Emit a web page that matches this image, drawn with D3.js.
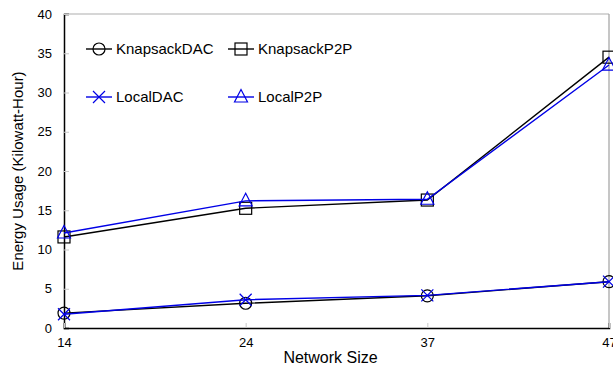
<!DOCTYPE html>
<html>
<head>
<meta charset="utf-8">
<script src="https://cdn.jsdelivr.net/npm/d3@7"></script>
<style>
  html, body { margin: 0; padding: 0; background: #fff; }
  svg { display: block; font-family: "Liberation Sans", Arial, Helvetica, sans-serif; }
</style>
</head>
<body>
<svg id="chart" width="613" height="369"></svg>
<script>
// Network sizes along the x axis
const networkSizes = ["14", "24", "37", "47"];
// Energy usage per series (kWh)
const knapsackDAC = [1.9, 3.15, 4.1, 5.9];
const knapsackP2P = [11.6, 15.25, 16.3, 34.5];
const localDAC = [1.75, 3.6, 4.15, 5.9];
const localP2P = [12.1, 16.2, 16.4, 33.5];
const yTicks = [0, 5, 10, 15, 20, 25, 30, 35, 40];

const series = [
  { name: "KnapsackDAC", values: knapsackDAC, color: "#000000", marker: "circle" },
  { name: "KnapsackP2P", values: knapsackP2P, color: "#000000", marker: "square" },
  { name: "LocalDAC", values: localDAC, color: "#0000e6", marker: "cross" },
  { name: "LocalP2P", values: localP2P, color: "#0000e6", marker: "triangle" }
];

const svg = d3.select("#chart");
const margin = { left: 64, right: 4, top: 14, bottom: 41 };
const W = 613, H = 369;
const x = d3.scalePoint().domain(networkSizes).range([margin.left, W - margin.right]);
const y = d3.scaleLinear().domain([0, 40]).range([H - margin.bottom, margin.top]);

// frame: light top/right, black left/bottom
svg.append("line").attr("x1", margin.left).attr("x2", W - margin.right)
  .attr("y1", y(40)).attr("y2", y(40)).attr("stroke", "#c8c8c8").attr("stroke-width", 1.5);
svg.append("line").attr("x1", W - margin.right).attr("x2", W - margin.right)
  .attr("y1", y(40)).attr("y2", y(0)).attr("stroke", "#a0a0a0").attr("stroke-width", 1.2);

// y axis
const yAxis = svg.append("g").attr("transform", `translate(${margin.left},0)`)
  .call(d3.axisLeft(y).tickValues(yTicks).tickSize(-5).tickPadding(12));
yAxis.select(".domain").attr("stroke", "#000").attr("stroke-width", 1.5);
yAxis.selectAll(".tick line").attr("stroke", "#c8c8c8");
yAxis.selectAll(".tick text").attr("font-size", 13).attr("fill", "#000")
  .attr("font-family", "Liberation Sans, Arial, sans-serif");

// x axis
const xAxis = svg.append("g").attr("transform", `translate(0,${y(0)})`)
  .call(d3.axisBottom(x).tickSize(-5).tickPadding(10));
xAxis.select(".domain").attr("stroke", "#000").attr("stroke-width", 1.5);
xAxis.selectAll(".tick line").attr("stroke", "#c8c8c8");
xAxis.selectAll(".tick text").attr("font-size", 13).attr("fill", "#000")
  .attr("font-family", "Liberation Sans, Arial, sans-serif");

// axis titles
svg.append("text").attr("x", (margin.left + W - margin.right) / 2 - 6).attr("y", 363)
  .attr("text-anchor", "middle").attr("font-size", 16).text("Network Size");
svg.append("text").attr("transform", `translate(23,${(y(0) + y(40)) / 2}) rotate(-90)`)
  .attr("text-anchor", "middle").attr("font-size", 15).text("Energy Usage (Kilowatt-Hour)");

function drawMarker(g, type, cx, cy, color) {
  const s = 6;
  if (type === "circle") {
    g.append("circle").attr("cx", cx).attr("cy", cy).attr("r", s)
      .attr("fill", "none").attr("stroke", color).attr("stroke-width", 1.2);
  } else if (type === "square") {
    g.append("rect").attr("x", cx - s).attr("y", cy - s).attr("width", 2 * s).attr("height", 2 * s)
      .attr("fill", "none").attr("stroke", color).attr("stroke-width", 1.2);
  } else if (type === "cross") {
    g.append("path").attr("d", `M${cx - s},${cy - s}L${cx + s},${cy + s}M${cx - s},${cy + s}L${cx + s},${cy - s}`)
      .attr("fill", "none").attr("stroke", color).attr("stroke-width", 1.2);
  } else if (type === "triangle") {
    g.append("path").attr("d", `M${cx},${cy - s - 1.5}L${cx + s + 0.5},${cy + s - 1}L${cx - s - 0.5},${cy + s - 1}Z`)
      .attr("fill", "none").attr("stroke", color).attr("stroke-width", 1.2);
  }
}

const line = d3.line().x((d, i) => x(networkSizes[i])).y(d => y(d));
const plot = svg.append("g");
series.forEach(s => {
  plot.append("path").datum(s.values).attr("d", line)
    .attr("fill", "none").attr("stroke", s.color).attr("stroke-width", 1.4);
  s.values.forEach((v, i) => drawMarker(plot, s.marker, x(networkSizes[i]), y(v), s.color));
});

// legend, two columns by two rows
const legendPos = [[86, 49], [228, 49], [86, 97], [228, 97]];
series.forEach((s, i) => {
  const [lx, ly] = legendPos[i];
  const g = svg.append("g");
  g.append("line").attr("x1", lx).attr("x2", lx + 26).attr("y1", ly).attr("y2", ly)
    .attr("stroke", s.color).attr("stroke-width", 1.4);
  drawMarker(g, s.marker, lx + 13, ly, s.color);
  g.append("text").attr("x", lx + 30).attr("y", ly + 5).attr("font-size", 15).text(s.name);
});
</script>
</body>
</html>
